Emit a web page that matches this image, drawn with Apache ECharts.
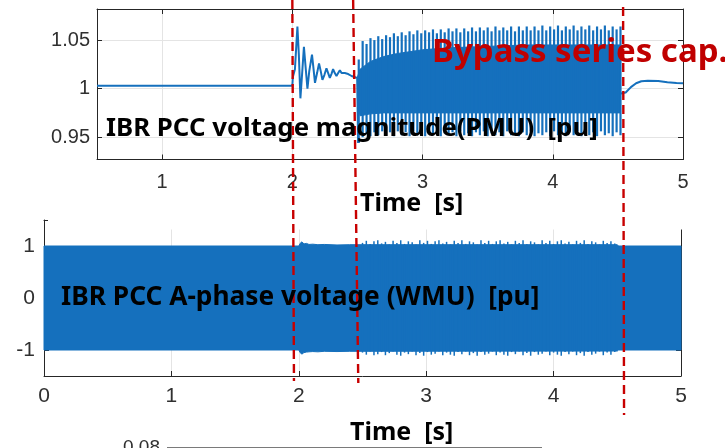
<!DOCTYPE html>
<html><head><meta charset="utf-8">
<script src="https://cdn.jsdelivr.net/npm/echarts@6/dist/echarts.min.js"></script>
<style>html,body{margin:0;padding:0;background:#fff}#c{width:725px;height:448px}</style>
</head><body><div id="c"></div>
<script>
// ---------- top plot: PMU voltage magnitude ----------
const pmuPreT = [0.5, 2.0, 2.004, 2.02, 2.039, 2.05, 2.062, 2.075, 2.089, 2.102, 2.116, 2.13, 2.151, 2.163, 2.174, 2.19, 2.205, 2.218, 2.231, 2.246, 2.262, 2.275, 2.288, 2.30, 2.313, 2.326, 2.339, 2.352, 2.365, 2.378, 2.390, 2.403, 2.416, 2.429, 2.442, 2.455, 2.467, 2.498, 2.505];
const pmuPreV = [1.003, 1.003, 1.012, 1.02, 1.064, 1.035, 0.990, 1.015, 1.043, 1.022, 1.000, 1.018, 1.035, 1.02, 1.006, 1.016, 1.026, 1.018, 1.009, 1.014, 1.021, 1.016, 1.011, 1.015, 1.020, 1.016, 1.013, 1.016, 1.019, 1.016, 1.014, 1.016, 1.018, 1.015, 1.013, 1.013, 1.012, 1.011, 0.944];
const pmuPostT = [4.523, 4.56, 4.60, 4.64, 4.68, 4.73, 4.81, 4.88, 4.95, 5.0];
const pmuPostV = [0.995, 0.996, 1.0015, 1.0055, 1.0076, 1.0082, 1.0079, 1.0066, 1.0058, 1.0055];
const pmuCoreT  = [2.50, 2.52, 2.60, 2.70, 2.80, 2.90, 3.00, 3.20, 3.40, 3.60, 3.80, 4.00, 4.20, 4.40, 4.52];
const pmuCoreHi = [1.012, 1.020, 1.028, 1.033, 1.036, 1.038, 1.040, 1.042, 1.043, 1.044, 1.045, 1.045, 1.045, 1.045, 1.045];
const pmuCoreLo = [0.990, 0.972, 0.974, 0.975, 0.975, 0.975, 0.975, 0.975, 0.975, 0.975, 0.975, 0.975, 0.975, 0.975, 0.975];
const pmuSpikeT = [2.51,2.54,2.57,2.60,2.63,2.66,2.69,2.72,2.75,2.78,
  2.81,2.84,2.87,2.90,2.93,2.96,2.99,3.02,3.05,3.08,
  3.11,3.14,3.17,3.20,3.23,3.26,3.29,3.32,3.35,3.38,
  3.41,3.44,3.47,3.50,3.53,3.56,3.59,3.62,3.65,3.68,
  3.71,3.74,3.77,3.80,3.83,3.86,3.89,3.92,3.95,3.98,
  4.01,4.04,4.07,4.10,4.13,4.16,4.19,4.22,4.25,4.28,
  4.31,4.34,4.37,4.40,4.43,4.46,4.49,4.52];
const pmuSpikeHi = [1.030,1.049,1.046,1.052,1.050,1.054,1.051,1.055,1.053,1.057,
  1.054,1.058,1.055,1.059,1.056,1.060,1.057,1.060,1.058,1.061,
  1.057,1.061,1.058,1.062,1.059,1.062,1.058,1.062,1.059,1.063,
  1.059,1.063,1.060,1.063,1.059,1.064,1.060,1.063,1.060,1.064,
  1.059,1.064,1.060,1.064,1.060,1.064,1.060,1.065,1.060,1.064,
  1.061,1.065,1.060,1.064,1.061,1.065,1.060,1.064,1.061,1.065,
  1.060,1.064,1.061,1.065,1.060,1.064,1.061,1.064];
const pmuSpikeLo = [0.944,0.950,0.953,0.951,0.955,0.952,0.956,0.952,0.955,0.951,
  0.956,0.952,0.955,0.951,0.956,0.952,0.954,0.951,0.955,0.952,
  0.956,0.951,0.954,0.952,0.955,0.951,0.956,0.952,0.954,0.951,
  0.955,0.952,0.956,0.951,0.954,0.952,0.955,0.951,0.956,0.952,
  0.954,0.951,0.955,0.952,0.956,0.951,0.954,0.952,0.955,0.951,
  0.956,0.952,0.954,0.951,0.955,0.952,0.956,0.951,0.954,0.952,
  0.955,0.951,0.956,0.952,0.954,0.951,0.955,0.952];
const topXTicks = [1, 2, 3, 4, 5];
const topYTicks = [0.95, 1, 1.05];

// ---------- bottom plot: WMU A-phase voltage ----------
const wmuCoreT  = [0, 2.00, 2.01, 2.025, 2.04, 2.06, 2.08, 2.11, 2.15, 2.20, 2.30, 2.40, 2.50, 4.50, 4.51, 5.00];
const wmuCoreHi = [1.0, 1.0, 1.05, 1.08, 1.04, 1.05, 1.03, 1.035, 1.025, 1.03, 1.02, 1.025, 1.025, 1.025, 1.0, 1.0];
const wmuCoreLo = [-1.0, -1.0, -1.05, -1.08, -1.05, -1.04, -1.035, -1.03, -1.035, -1.025, -1.03, -1.025, -1.025, -1.02, -1.0, -1.0];
const wmuSpikeT = [2.50,2.53,2.56,2.59,2.62,2.65,2.68,2.71,2.74,2.77,
  2.80,2.83,2.86,2.89,2.92,2.95,2.98,3.01,3.04,3.07,
  3.10,3.13,3.16,3.19,3.22,3.25,3.28,3.31,3.34,3.37,
  3.40,3.43,3.46,3.49,3.52,3.55,3.58,3.61,3.64,3.67,
  3.70,3.73,3.76,3.79,3.82,3.85,3.88,3.91,3.94,3.97,
  4.00,4.03,4.06,4.09,4.12,4.15,4.18,4.21,4.24,4.27,
  4.30,4.33,4.36,4.39,4.42,4.45,4.48];
const wmuSpikeHi = [1.06,1.10,1.04,1.09,1.11,1.05,1.08,1.03,1.10,1.06,
  1.11,1.04,1.09,1.07,1.03,1.11,1.06,1.10,1.04,1.09,
  1.11,1.05,1.08,1.03,1.10,1.06,1.11,1.04,1.09,1.07,
  1.03,1.11,1.06,1.10,1.04,1.09,1.11,1.05,1.08,1.03,
  1.10,1.06,1.11,1.04,1.09,1.07,1.03,1.11,1.06,1.10,
  1.04,1.09,1.11,1.05,1.08,1.03,1.10,1.06,1.11,1.04,
  1.09,1.07,1.03,1.10,1.06,1.09,1.05];
const wmuSpikeLo = [-1.05,-1.09,-1.03,-1.10,-1.08,-1.04,-1.10,-1.06,-1.03,-1.09,
  -1.11,-1.05,-1.08,-1.03,-1.10,-1.06,-1.11,-1.04,-1.09,-1.07,
  -1.03,-1.10,-1.05,-1.09,-1.11,-1.04,-1.08,-1.03,-1.10,-1.06,
  -1.11,-1.04,-1.09,-1.07,-1.03,-1.10,-1.05,-1.09,-1.11,-1.04,
  -1.08,-1.03,-1.10,-1.06,-1.11,-1.04,-1.09,-1.07,-1.03,-1.10,
  -1.05,-1.09,-1.11,-1.04,-1.08,-1.03,-1.10,-1.06,-1.11,-1.04,
  -1.09,-1.07,-1.03,-1.10,-1.05,-1.09,-1.04];
const botYTicks = [-1, 0, 1];

// ---------- annotations ----------
const cutTimesTop = [2.0, 2.467, 4.54];      // red dashed lines, read on top plot
const cutTimesBottom = [1.962, 2.467, 4.553]; // same lines, read on bottom plot
const texts = {
  pmu: 'IBR PCC voltage magnitude(PMU)  [pu]',
  wmu: 'IBR PCC A-phase voltage (WMU)  [pu]',
  bypass: 'Bypass series cap.',
  time: 'Time  [s]'
};

const BLUE = '#1570bd';
const AX = '#262626';
const GRIDC = '#e4e4e4';
const zip = (a, b) => a.map((v, i) => [v, b[i]]);

function axisX(grid, min, max, pos, ticks, labelSize, showLabel, split) {
  return {
    gridIndex: grid, type: 'value', min: min, max: max, position: pos,
    axisLine: {show: true, onZero: false, lineStyle: {color: AX, width: 1}},
    axisTick: {show: true, inside: true, length: 5, customValues: ticks, lineStyle: {color: AX}},
    axisLabel: {show: showLabel, customValues: ticks, fontSize: labelSize, color: '#303030',
      fontFamily: 'Liberation Sans, Arial, sans-serif', margin: grid === 0 ? 13 : 10},
    splitLine: {show: split, lineStyle: {color: GRIDC, width: 1}}
  };
}
function axisY(grid, min, max, pos, ticks, labelSize, showLabel, split, margin) {
  return {
    gridIndex: grid, type: 'value', min: min, max: max, position: pos,
    axisLine: {show: true, onZero: false, lineStyle: {color: AX, width: 1}},
    axisTick: {show: true, inside: true, length: 5, customValues: ticks, lineStyle: {color: AX}},
    axisLabel: {show: showLabel, customValues: ticks, fontSize: labelSize, color: '#303030',
      fontFamily: 'Liberation Sans, Arial, sans-serif', margin: margin},
    splitLine: {show: split, lineStyle: {color: GRIDC, width: 1}}
  };
}

function polygonSeries(xi, yi, T, HI, LO) {
  return {
    type: 'custom', xAxisIndex: xi, yAxisIndex: yi, silent: true, z: 3,
    data: [[T[0], HI[0]]], encode: {x: 0, y: 1},
    renderItem: function (params, api) {
      const pts = [];
      for (let i = 0; i < T.length; i++) pts.push(api.coord([T[i], HI[i]]));
      for (let i = T.length - 1; i >= 0; i--) pts.push(api.coord([T[i], LO[i]]));
      return {type: 'polygon', shape: {points: pts}, style: {fill: BLUE, stroke: BLUE, lineWidth: 1}};
    }
  };
}
function spikeSeries(xi, yi, T, LO, HI, w) {
  return {
    type: 'custom', xAxisIndex: xi, yAxisIndex: yi, silent: true, z: 3,
    data: T.map((t, i) => [t, LO[i], HI[i]]), encode: {x: 0, y: [1, 2]},
    renderItem: function (params, api) {
      const a = api.coord([api.value(0), api.value(1)]);
      const b = api.coord([api.value(0), api.value(2)]);
      return {type: 'line', shape: {x1: a[0], y1: a[1], x2: b[0], y2: b[1]},
        style: {stroke: BLUE, lineWidth: w}};
    }
  };
}

const chart = echarts.init(document.getElementById('c'), null, {renderer: 'canvas'});
chart.setOption({
  animation: false,
  backgroundColor: '#fff',
  grid: [
    {left: 97, top: 9, width: 586, height: 150.5},
    {left: 44, top: 220, width: 637, height: 156}
  ],
  xAxis: [
    axisX(0, 0.5, 5, 'bottom', topXTicks, 20, true, true),
    axisX(0, 0.5, 5, 'top', topXTicks, 20, false, false),
    axisX(1, 0, 5, 'bottom', [0, 1, 2, 3, 4, 5], 21, true, true),
    axisX(1, 0, 5, 'top', [0, 1, 2, 3, 4, 5], 21, false, false)
  ],
  yAxis: [
    axisY(0, 0.927, 1.082, 'left', topYTicks, 20, true, true, 7),
    axisY(0, 0.927, 1.082, 'right', topYTicks, 20, false, false, 7),
    axisY(1, -1.5, 1.5, 'left', botYTicks, 21, true, false, 9),
    axisY(1, -1.5, 1.5, 'right', botYTicks, 21, false, false, 9)
  ],
  series: [
    {type: 'line', xAxisIndex: 0, yAxisIndex: 0, data: zip(pmuPreT, pmuPreV), showSymbol: false, silent: true,
      lineStyle: {color: BLUE, width: 2}, z: 4},
    {type: 'line', xAxisIndex: 0, yAxisIndex: 0, data: zip(pmuPostT, pmuPostV), showSymbol: false, silent: true,
      lineStyle: {color: BLUE, width: 2}, z: 4},
    polygonSeries(0, 0, pmuCoreT, pmuCoreHi, pmuCoreLo),
    spikeSeries(0, 0, pmuSpikeT, pmuSpikeLo, pmuSpikeHi, 2.2),
    polygonSeries(2, 2, wmuCoreT, wmuCoreHi, wmuCoreLo),
    spikeSeries(2, 2, wmuSpikeT, wmuSpikeLo, wmuSpikeHi, 1.5)
  ]
});

const yStart = [0, 0, 7], yEnd = [381, 383, 415];
const g = [];
g.push({type: 'rect', shape: {x: 48, y: 214, width: 677, height: 15.5}, style: {fill: '#fff'}, z: 100, silent: true});
for (let i = 0; i < cutTimesTop.length; i++) {
  const xa = chart.convertToPixel({xAxisIndex: 0}, cutTimesTop[i]);
  const xb = chart.convertToPixel({xAxisIndex: 2}, cutTimesBottom[i]);
  g.push({type: 'line', shape: {x1: xa, y1: yStart[i], x2: xb, y2: yEnd[i]},
    style: {stroke: '#c80000', lineWidth: 2.4, lineDash: [9, 5]}, z: 110, silent: true});
}
function txt(s, x, y, size, color) {
  return {type: 'text', z: 120, silent: true, x: x, y: y,
    style: {text: s, fill: color, font: 'bold ' + size + 'px "Noto Sans", sans-serif',
      align: 'left', verticalAlign: 'middle', textAlign: 'left', textVerticalAlign: 'middle'}};
}
g.push(txt(texts.pmu, 106, 129, 25.8, '#000'));
g.push(txt(texts.bypass, 432, 53, 33, '#c00000'));
g.push(txt(texts.time, 360, 204, 25, '#000'));
g.push(txt(texts.wmu, 61, 298, 26.3, '#000'));
g.push(txt(texts.time, 350, 433, 25, '#000'));
g.push({type: 'text', z: 120, silent: true, x: 123, y: 438,
  style: {text: '0.08', fill: '#303030', font: '19px "Liberation Sans", Arial, sans-serif',
    align: 'left', verticalAlign: 'top', textAlign: 'left', textVerticalAlign: 'top'}});
g.push({type: 'line', z: 120, silent: true, shape: {x1: 167, y1: 447.5, x2: 542, y2: 447.5},
  style: {stroke: '#7a7a7a', lineWidth: 1}});
chart.setOption({graphic: g});
</script>
</body></html>
